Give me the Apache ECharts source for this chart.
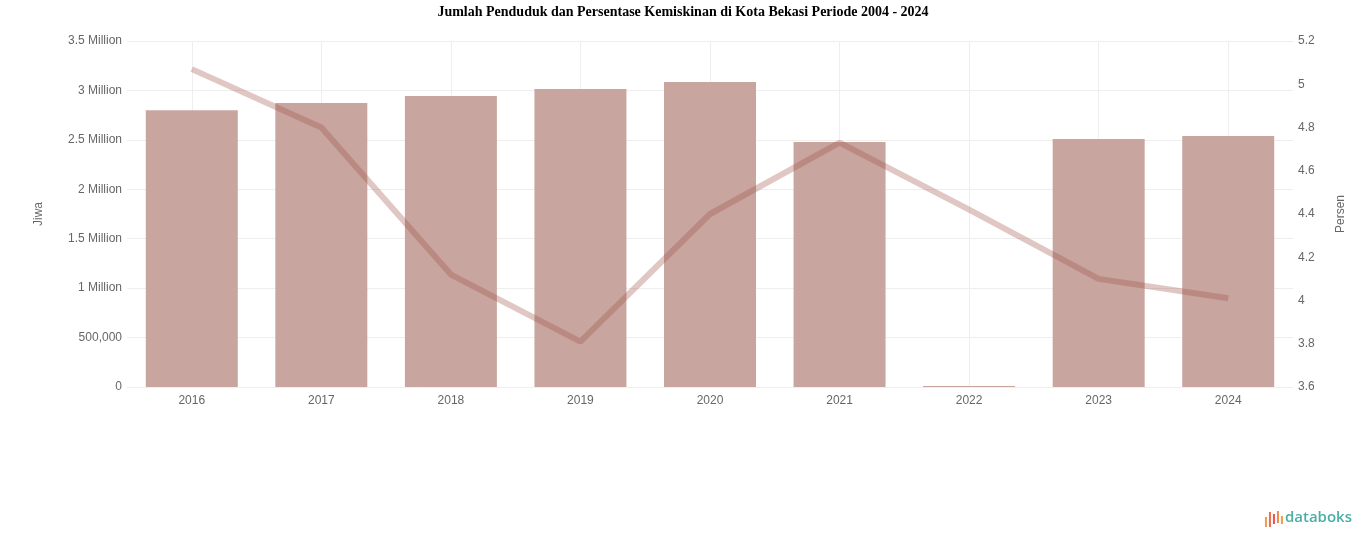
<!DOCTYPE html>
<html>
<head>
<meta charset="utf-8">
<script src="https://cdn.jsdelivr.net/npm/echarts@6/dist/echarts.min.js"></script>
<style>html,body{margin:0;padding:0;background:#fff}#c{width:1366px;height:547px}</style>
</head>
<body>
<div id="c"></div>
<script>
const categories = ['2016','2017','2018','2019','2020','2021','2022','2023','2024'];
const populationValues = [2800000, 2873000, 2943000, 3014000, 3085000, 2478000, 10000, 2509000, 2539000];
const povertyValues = [5.07, 4.80, 4.12, 3.81, 4.40, 4.73, 4.42, 4.10, 4.01];
const leftTicks = {min: 0, max: 3500000, interval: 500000};
const rightTicks = {min: 3.6, max: 5.2, interval: 0.2};

const chart = echarts.init(document.getElementById('c'), null, {renderer: 'canvas'});
chart.setOption({
  animation: false,
  backgroundColor: '#fff',
  title: {
    text: 'Jumlah Penduduk dan Persentase Kemiskinan di Kota Bekasi Periode 2004 - 2024',
    left: 'center', top: 0,
    textStyle: {fontFamily: 'Liberation Serif', fontSize: 14, fontWeight: 'bold', color: '#000'}
  },
  grid: {left: 127, right: 73, top: 41, bottom: 160},
  xAxis: {
    type: 'category',
    data: categories,
    axisLine: {show: false},
    axisTick: {show: false},
    axisLabel: {color: '#666', fontSize: 12, margin: 8, fontFamily: 'Liberation Sans'},
    splitLine: {show: true, alignWithLabel: true, lineStyle: {color: '#eee', width: 1}}
  },
  yAxis: [{
    type: 'value',
    name: 'Jiwa',
    nameLocation: 'middle',
    nameGap: 82,
    nameRotate: 90,
    nameTextStyle: {color: '#666', fontSize: 12, fontFamily: 'Liberation Sans'},
    min: leftTicks.min, max: leftTicks.max, interval: leftTicks.interval,
    axisLine: {show: false}, axisTick: {show: false},
    axisLabel: {
      color: '#666', fontSize: 12, margin: 5, fontFamily: 'Liberation Sans',
      formatter: function (v) {
        if (v >= 1000000) return (v / 1000000) + ' Million';
        return v.toLocaleString('en-US');
      }
    },
    splitLine: {lineStyle: {color: '#eee'}}
  }, {
    type: 'value',
    name: 'Persen',
    nameLocation: 'middle',
    nameGap: 42,
    nameRotate: 90,
    nameTextStyle: {color: '#666', fontSize: 12, fontFamily: 'Liberation Sans'},
    min: rightTicks.min, max: rightTicks.max, interval: rightTicks.interval,
    axisLine: {show: false}, axisTick: {show: false},
    axisLabel: {
      color: '#666', fontSize: 12, margin: 5, fontFamily: 'Liberation Sans',
      formatter: function (v) { return String(Math.round(v * 100) / 100); }
    },
    splitLine: {show: false}
  }],
  series: [{
    type: 'bar',
    data: populationValues,
    yAxisIndex: 0,
    barWidth: '71%',
    itemStyle: {color: 'rgb(200,165,158)'}
  }, {
    type: 'line',
    data: povertyValues,
    yAxisIndex: 1,
    symbol: 'none',
    lineStyle: {color: 'rgba(160,80,70,0.32)', width: 6},
    z: 3
  }],
  graphic: [{
    type: 'group', right: 14, bottom: 20,
    children: [
      {type: 'rect', shape: {x: 0, y: 6, width: 2, height: 10}, style: {fill: '#f29a4f'}},
      {type: 'rect', shape: {x: 4, y: 1, width: 2, height: 15}, style: {fill: '#ee6a4a'}},
      {type: 'rect', shape: {x: 8, y: 3, width: 2, height: 10}, style: {fill: '#e8534a'}},
      {type: 'rect', shape: {x: 12, y: 0, width: 2, height: 12}, style: {fill: '#f08a4b'}},
      {type: 'rect', shape: {x: 16, y: 5, width: 2, height: 8}, style: {fill: '#f29a4f'}},
      {type: 'text', x: 20, y: -1, style: {text: 'databoks', fill: '#4aaea6', font: '600 15px "Open Sans"'}}
    ]
  }]
});
</script>
</body>
</html>
